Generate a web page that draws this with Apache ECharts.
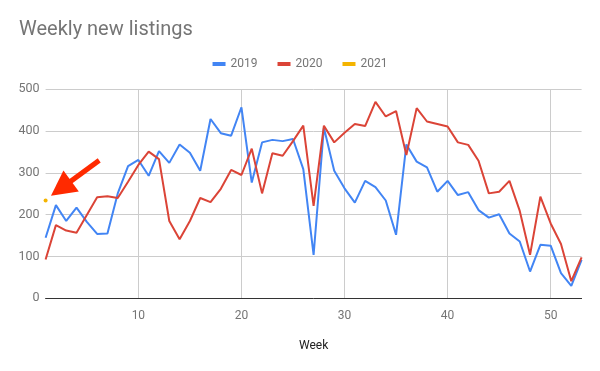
<!DOCTYPE html>
<html>
<head>
<meta charset="utf-8">
<script src="https://cdn.jsdelivr.net/npm/echarts@6/dist/echarts.min.js"></script>
<style>html,body{margin:0;padding:0;background:#fff}#c{width:600px;height:371px}</style>
</head>
<body>
<div id="c"></div>
<script>
const weeks = Array.from({length: 53}, (_, i) => String(i + 1));
const xTickLabels = ['10', '20', '30', '40', '50'];
const yTicks = [0, 100, 200, 300, 400, 500];
const s2019 = [145,223,185,217,183,154,155,251,316,331,293,352,324,368,348,305,429,395,389,457,
  277,373,379,376,381,309,104,408,305,263,229,281,266,234,152,368,327,313,255,281,
  247,254,211,193,201,155,136,64,128,126,60,30,92];
const s2020 = [93,175,162,157,199,242,244,240,279,319,351,333,185,141,185,240,230,262,307,295,
  358,251,347,341,376,413,221,413,373,396,417,412,470,435,448,343,455,423,417,411,
  373,367,329,251,255,281,209,104,243,179,130,41,98];
const s2021 = [234];
// annotation arrow (data space: week, value)
const arrowFrom = [6.2, 330];
const arrowTo = [2.5, 263];

const chart = echarts.init(document.getElementById('c'), null, {renderer: 'canvas'});
const font = 'Roboto, Arial, sans-serif';
chart.setOption({
  animation: false,
  title: {
    text: 'Weekly new listings', left: 19, top: 20, padding: 0,
    textStyle: {fontFamily: font, fontSize: 20, fontWeight: 'normal', color: '#757575'}
  },
  legend: {
    data: ['2019', '2020', '2021'], top: 53, left: 'center', icon: 'rect',
    itemWidth: 13, itemHeight: 4, itemGap: 20,
    textStyle: {fontFamily: font, fontSize: 12, color: '#757575'}
  },
  grid: {left: 45.6, right: 18.4, top: 89.3, bottom: 72.7, containLabel: false},
  xAxis: [{
    type: 'category', data: weeks, boundaryGap: false,
    name: 'Week', nameLocation: 'middle', nameGap: 42,
    nameTextStyle: {fontFamily: font, fontSize: 12, color: '#222'},
    axisLine: {lineStyle: {color: '#333', width: 1}},
    axisTick: {show: false},
    axisLabel: {
      interval: (i, v) => xTickLabels.indexOf(v) >= 0,
      fontFamily: font, fontSize: 12, color: '#757575', margin: 12
    },
    splitLine: {show: true, interval: (i, v) => xTickLabels.indexOf(v) >= 0, lineStyle: {color: '#ccc'}}
  }, {
    type: 'value', min: 1, max: 53, show: false
  }],
  yAxis: {
    type: 'value', min: yTicks[0], max: yTicks[yTicks.length - 1], interval: 100,
    axisLine: {show: false}, axisTick: {show: false},
    axisLabel: {fontFamily: font, fontSize: 12.5, color: '#757575', margin: 6},
    splitLine: {lineStyle: {color: '#ccc'}}
  },
  series: [
    {name: '2019', type: 'line', data: s2019, color: '#4285F4', showSymbol: false,
      lineStyle: {width: 2}},
    {name: '2020', type: 'line', data: s2020, color: '#DB4437', showSymbol: false,
      lineStyle: {width: 2}},
    {name: '2021', type: 'line', data: s2021, color: '#F4B400', showSymbol: true,
      symbol: 'circle', symbolSize: 4, lineStyle: {width: 2}},
    {name: 'arrow', type: 'scatter', xAxisIndex: 1, data: [], silent: true,
      markLine: {
        silent: true, animation: false,
        symbol: ['none', 'triangle'], symbolSize: [26, 25],
        label: {show: false},
        lineStyle: {color: '#FF2A00', width: 5, type: 'solid'},
        emphasis: {disabled: true},
        data: [[{coord: arrowFrom}, {coord: arrowTo}]]
      }}
  ]
});
</script>
</body>
</html>
